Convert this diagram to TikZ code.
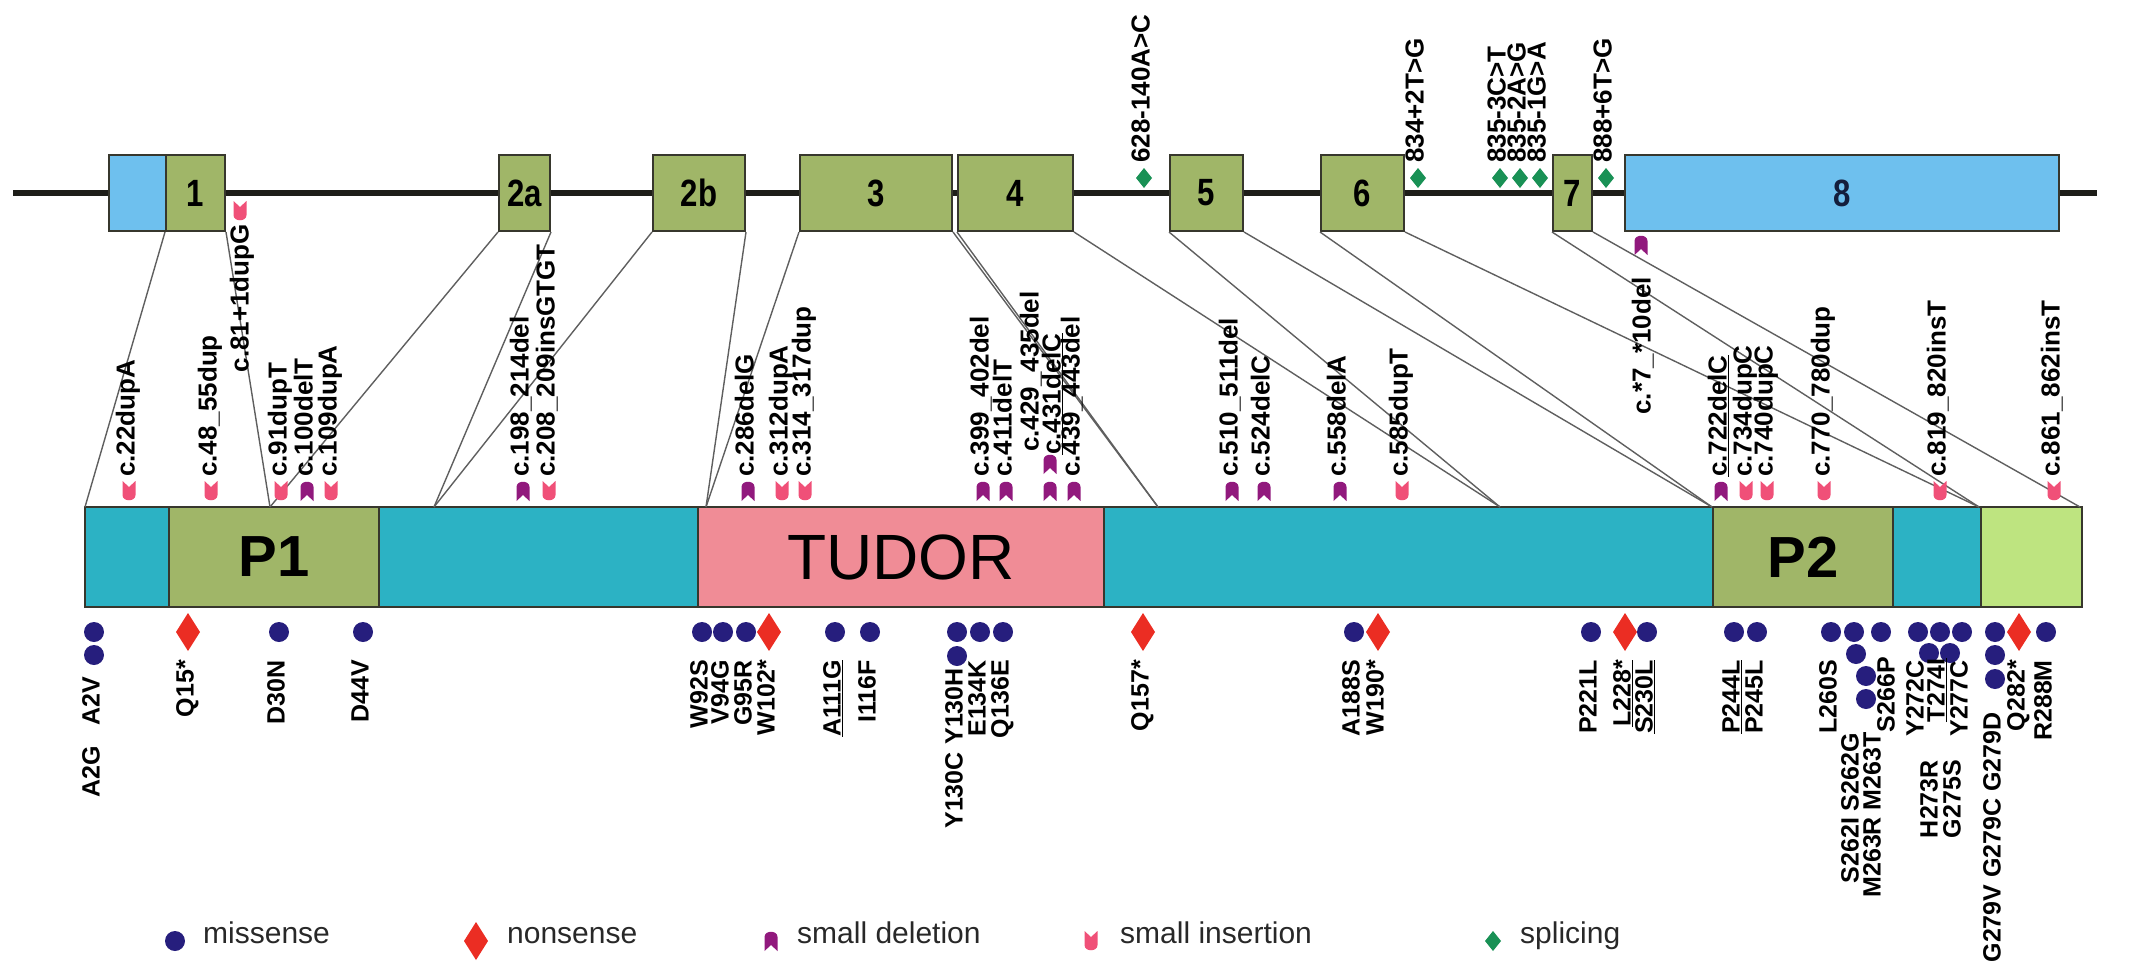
\documentclass[tikz,border=0pt]{standalone}
\usepackage{fontspec}
\setmainfont{Liberation Sans}
\newfontfamily\narrowfont[FakeStretch=0.82]{Liberation Sans}
\definecolor{exg}{RGB}{160,182,104}
\definecolor{utrc}{RGB}{110,192,238}
\definecolor{tealc}{RGB}{44,178,196}
\definecolor{tudc}{RGB}{240,140,150}
\definecolor{endg}{RGB}{190,228,128}
\definecolor{navy8}{RGB}{20,30,60}
\definecolor{outl}{RGB}{55,55,45}
\definecolor{genec}{RGB}{30,30,25}
\definecolor{connc}{RGB}{95,95,95}
\definecolor{misc}{RGB}{38,30,125}
\definecolor{nonc}{RGB}{235,45,35}
\definecolor{delc}{RGB}{145,25,125}
\definecolor{insc}{RGB}{240,80,120}
\definecolor{splc}{RGB}{25,145,85}
\definecolor{legc}{RGB}{40,40,40}
\tikzset{
  gene/.style={draw=genec, line width=6pt},
  exon/.style={draw=outl, line width=2pt, fill=exg, minimum height=76pt, inner sep=0pt,
    font=\narrowfont\bfseries\fontsize{38}{38}\selectfont},
  dom/.style={draw=outl, line width=2pt, minimum height=100pt, inner sep=0pt},
  conn/.style={draw=connc, line width=1.4pt},
  labu/.style={rotate=90, anchor=mid west, inner sep=0pt, font=\bfseries\fontsize{26}{26}\selectfont},
  labd/.style={rotate=90, anchor=mid east, inner sep=0pt, font=\bfseries\fontsize{25}{25}\selectfont},
  legtext/.style={anchor=mid west, inner sep=0pt, text=legc, font=\fontsize{30}{30}\selectfont},
  dotmark/.pic={\fill[misc] (0,0) circle[radius=10pt];},
  nonmark/.pic={\fill[nonc] (0,-19) -- (12,0) -- (0,19) -- (-12,0) -- cycle;},
  splmark/.pic={\fill[splc] (0,-10) -- (8,0) -- (0,10) -- (-8,0) -- cycle;},
  insmark/.pic={\fill[insc] (-6.5,-10) -- (0,-4) -- (6.5,-10) -- (6.5,4)
      .. controls (6.5,11) and (-6.5,11) .. (-6.5,4) -- cycle;},
  delmark/.pic={\fill[delc] (-6.5,10) -- (0,4) -- (6.5,10) -- (6.5,-4)
      .. controls (6.5,-11) and (-6.5,-11) .. (-6.5,-4) -- cycle;}
}
\begin{document}
\begin{tikzpicture}[x=1pt,y=-1pt]
\useasboundingbox (0,0) rectangle (2138,969);

% ---------- gene structure ----------
\coordinate (g0) at (13,193);
\coordinate (g1) at (2097,193);
\draw[gene] (g0) -- (g1);

\node[exon, fill=utrc, minimum width=57pt] (u5) at (137.5,193) {};
\node[exon, minimum width=59pt] (e1) at (195.5,193) {1};
\node[exon, minimum width=51pt] (e2a) at (524.5,193) {2a};
\node[exon, minimum width=92pt] (e2b) at (699,193) {2b};
\node[exon, minimum width=152pt] (e3) at (876,193) {3};
\node[exon, minimum width=115pt] (e4) at (1015.5,193) {4};
\node[exon, minimum width=73pt] (e5) at (1206.5,193) {5};
\node[exon, minimum width=83pt] (e6) at (1362.5,193) {6};
\node[exon, minimum width=39pt] (e7) at (1572.5,193) {7};
\node[exon, fill=utrc, minimum width=434pt, text=navy8] (e8) at (1842,193) {8};

% ---------- protein ----------
\node[dom, fill=tealc, minimum width=84pt] (d0) at (127,557) {};
\node[dom, fill=exg, minimum width=210pt, font=\bfseries\fontsize{58}{58}\selectfont] (p1) at (274,557) {P1};
\node[dom, fill=tealc, minimum width=319pt] (d1) at (538.5,557) {};
\node[dom, fill=tudc, minimum width=406pt, font=\fontsize{64}{64}\selectfont] (tud) at (901,557) {TUDOR};
\node[dom, fill=tealc, minimum width=609pt] (d2) at (1408.5,557) {};
\node[dom, fill=exg, minimum width=180pt, font=\bfseries\fontsize{58}{58}\selectfont] (p2) at (1803,557) {P2};
\node[dom, fill=tealc, minimum width=88pt] (d3) at (1937,557) {};
\node[dom, fill=endg, minimum width=101pt] (d4) at (2031.5,557) {};

% exon boundaries on the protein
\coordinate (b1) at (85,507);
\coordinate (b2) at (270,507);
\coordinate (b3) at (434,507);
\coordinate (b4) at (706,507);
\coordinate (b5) at (1158,507);
\coordinate (b6) at (1500,507);
\coordinate (b7) at (1712,507);
\coordinate (b8) at (1979,507);
\coordinate (b9) at (2080,507);

\draw[conn] (e1.south west) -- (b1);
\draw[conn] (e1.south east) -- (b2);
\draw[conn] (e2a.south west) -- (b2);
\draw[conn] (e2a.south east) -- (b3);
\draw[conn] (e2b.south west) -- (b3);
\draw[conn] (e2b.south east) -- (b4);
\draw[conn] (e3.south west) -- (b4);
\draw[conn] (e3.south east) -- (b5);
\draw[conn] (e4.south west) -- (b5);
\draw[conn] (e4.south east) -- (b6);
\draw[conn] (e5.south west) -- (b6);
\draw[conn] (e5.south east) -- (b7);
\draw[conn] (e6.south west) -- (b7);
\draw[conn] (e6.south east) -- (b8);
\draw[conn] (e7.south west) -- (b8);
\draw[conn] (e7.south east) -- (b9);

% ---------- splicing variants ----------
\foreach \n/\x/\t in {s1/1144/628-140A>C, s2/1418/834+2T>G, s3/1500/835-3C>T,
    s4/1520/835-2A>G, s5/1540/835-1G>A, s6/1606/888+6T>G}{
  \pic at (\x,178) {splmark};
  \node[labu] (\n) at (\x+3,163) {\t};
}

% intronic / UTR variants on the gene
\pic at (240,211) {insmark};
\node[labu, anchor=mid east] (i81) at (246,224) {c.81+1dupG};
\pic at (1641,245) {delmark};
\node[labu, anchor=mid east] (dutr) at (1648,277) {c.*7\_*10del};

% ---------- small insertions / deletions ----------
\foreach \n/\x/\t in {ia/129/c.22dupA, ib/211/c.48\_55dup, ic/281/c.91dupT,
    id/331/c.109dupA, ie/549/c.208\_209insGTGT, if/782/c.312dupA,
    ig/805/c.314\_317dup, ih/1402/c.585dupT, ii/1746/c.734dupC,
    ij/1767/c.740dupC, ik/1824/c.770\_780dup, il/1940/c.819\_820insT,
    im/2054/c.861\_862insT}{
  \pic at (\x,491) {insmark};
  \node[labu] (\n) at (\x+3,477) {\t};
}
\foreach \n/\x/\t in {da/307/c.100delT, db/523/c.198\_214del, dc/748/c.286delG,
    dd/983/c.399\_402del, de/1006/c.411delT, df/1074/c.439\_443del,
    dg/1232/c.510\_511del, dh/1264/c.524delC, di/1340/c.558delA}{
  \pic at (\x,491) {delmark};
  \node[labu] (\n) at (\x+3,477) {\t};
}
\pic at (1050,464) {delmark};
\pic at (1050,491) {delmark};
\node[labu] (d429) at (1036,452) {c.429\_435del};
\node[labu] (d431) at (1058,455) {\underline{c.431delC}};
\pic at (1721,491) {delmark};
\node[labu] (d722) at (1724,477) {\underline{c.722delC}};

% ---------- missense / nonsense ----------
\foreach \n/\x/\t in {ma/279/D30N, mb/363/D44V, mc/702/W92S, md/723/V94G,
    me/746/G95R, mf/870/I116F, mg/980/E134K, mh/1003/Q136E, mi/1354/A188S,
    mj/1591/P221L, mk/1757/P245L, ml/1831/L260S, mm/1918/Y272C, mn/1962/Y277C,
    mo/2046/R288M}{
  \pic at (\x,632) {dotmark};
  \node[labd] (\n) at (\x+3,660) {\t};
}
\foreach \n/\x/\t in {na/188/Q15*, nb/769/W102*, nc/1143/Q157*, nd/1378/W190*,
    ne/2019/Q282*}{
  \pic at (\x,632) {nonmark};
  \node[labd] (\n) at (\x+3,660) {\t};
}
\pic at (1625,632) {nonmark};
\node[labd] (n228) at (1628,660) {\underline{L228*}};
\pic at (835,632) {dotmark};
\node[labd] (m111) at (838,660) {\underline{A111G}};
\pic at (1647,632) {dotmark};
\node[labd] (m230) at (1650,660) {\underline{S230L}};
\pic at (1734,632) {dotmark};
\node[labd] (m244) at (1737,660) {\underline{P244L}};

% stacked sites
\pic at (94,632) {dotmark};
\pic at (94,655) {dotmark};
\node[labd] (m2) at (97,677) {A2G\hspace{0.8em}A2V};
\pic at (957,632) {dotmark};
\pic at (957,656) {dotmark};
\node[labd] (m130) at (960,668) {Y130C\hspace{0.3em}Y130H};
\pic at (1854,632) {dotmark};
\pic at (1856,654) {dotmark};
\pic at (1866,676) {dotmark};
\pic at (1866,699) {dotmark};
\node[labd] (m262) at (1856,733) {S262I S262G};
\node[labd] (m263) at (1878,732) {M263R M263T};
\pic at (1881,632) {dotmark};
\node[labd] (m266) at (1892,657) {S266P};
\pic at (1940,632) {dotmark};
\pic at (1929,653) {dotmark};
\pic at (1950,653) {dotmark};
\node[labd] (m274) at (1942,658) {\underline{T274I}};
\node[labd] (m273) at (1935,760) {H273R};
\node[labd] (m275) at (1958,760) {G275S};
\pic at (1995,632) {dotmark};
\pic at (1995,655) {dotmark};
\pic at (1995,679) {dotmark};
\node[labd] (m279) at (1998,712) {G279V G279C G279D};

% ---------- legend ----------
\pic at (175,941) {dotmark};
\node[legtext] (lmis) at (203,941) {missense};
\pic at (476,941) {nonmark};
\node[legtext] (lnon) at (507,941) {nonsense};
\pic at (771,941) {delmark};
\node[legtext] (ldel) at (797,941) {small deletion};
\pic at (1091,941) {insmark};
\node[legtext] (lins) at (1120,941) {small insertion};
\pic at (1493,941) {splmark};
\node[legtext] (lspl) at (1520,941) {splicing};
\end{tikzpicture}
\end{document}
